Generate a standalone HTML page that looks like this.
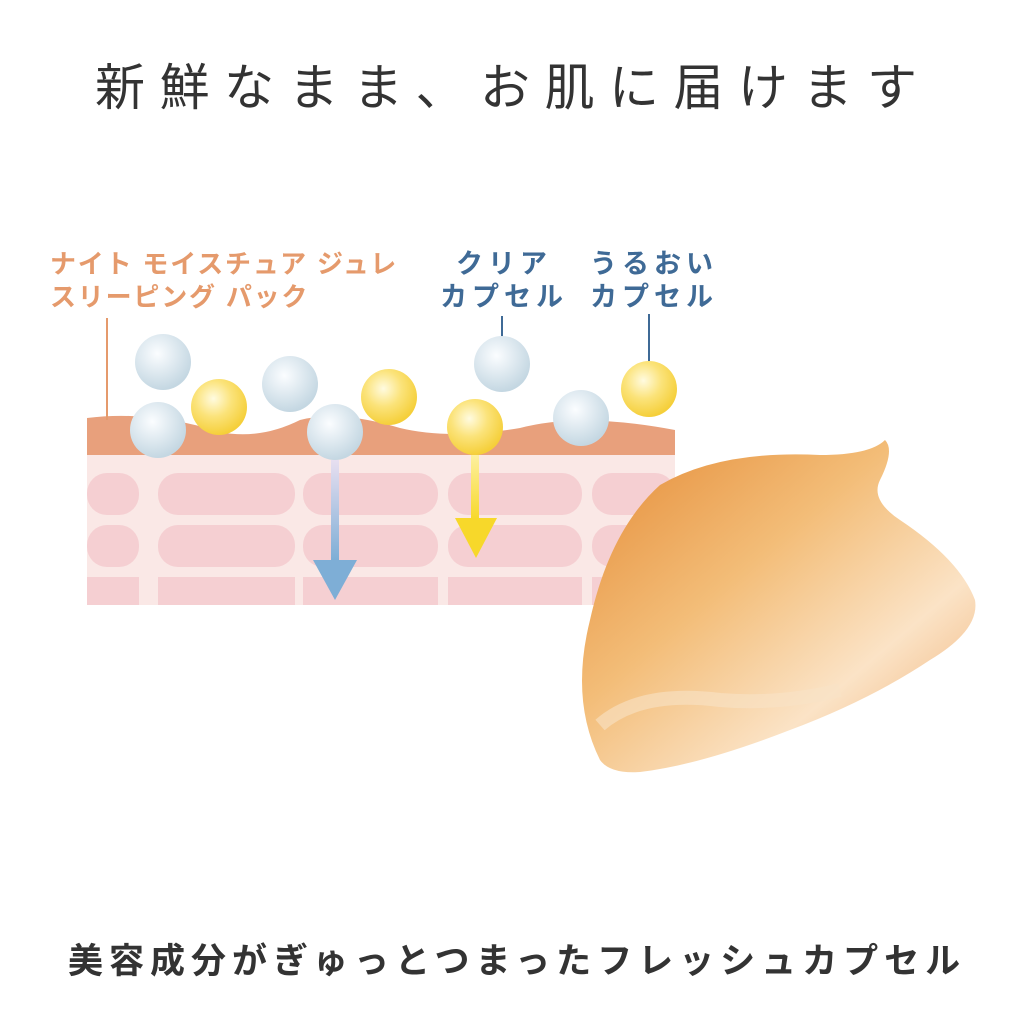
<!DOCTYPE html>
<html><head><meta charset="utf-8"><style>
html,body{margin:0;padding:0;background:#fff}
body{width:1024px;height:1024px;position:relative;overflow:hidden;font-family:"Liberation Sans","Noto Sans CJK JP",sans-serif}
.t{position:absolute;white-space:nowrap}
</style></head><body>
<div class="t" style="left:95px;top:48px;font-size:50px;letter-spacing:14.5px;color:#333">新鮮なまま、お肌に届けます</div>
<div class="t" style="left:68px;top:933px;font-size:35px;font-weight:bold;letter-spacing:6px;color:#333">美容成分がぎゅっとつまったフレッシュカプセル</div>
<div class="t" style="left:50px;top:248px;font-size:26px;line-height:33px;letter-spacing:1.8px;color:#e59a6c;font-weight:bold">ナイト モイスチュア ジュレ<br>スリーピング パック</div>
<div class="t" style="left:440px;top:248px;font-size:27px;line-height:33px;letter-spacing:5px;color:#3f6a96;font-weight:bold;text-align:center">クリア<br>カプセル</div>
<div class="t" style="left:590px;top:248px;font-size:27px;line-height:33px;letter-spacing:5px;color:#3f6a96;font-weight:bold">うるおい<br>カプセル</div>
<svg width="1024" height="1024" style="position:absolute;left:0;top:0">
<defs>
<radialGradient id="b" cx="0.4" cy="0.35" r="0.65"><stop offset="0" stop-color="#fbfdff"/><stop offset="1" stop-color="#c4d7e2"/></radialGradient>
<radialGradient id="y" cx="0.4" cy="0.35" r="0.65"><stop offset="0" stop-color="#fffbe0"/><stop offset="0.5" stop-color="#fbe37a"/><stop offset="1" stop-color="#f5cf3a"/></radialGradient>
<linearGradient id="ab" x1="0" y1="0" x2="0" y2="1"><stop offset="0" stop-color="#e8dff0"/><stop offset="1" stop-color="#7eaed6"/></linearGradient>
<linearGradient id="ay" x1="0" y1="0" x2="0" y2="1"><stop offset="0" stop-color="#fdf0a0"/><stop offset="1" stop-color="#f7d82a"/></linearGradient>
<linearGradient id="cr" x1="0" y1="0" x2="1" y2="1"><stop offset="0" stop-color="#e48a35"/><stop offset="0.4" stop-color="#f3bd78"/><stop offset="0.7" stop-color="#fbe3c6"/><stop offset="1" stop-color="#eea868"/></linearGradient>
</defs>
<rect x="87" y="450" width="588" height="155" fill="#fae8e6"/>
<g fill="#f5cfd2">
<rect x="87" y="473" width="52" height="42" rx="20"/><rect x="158" y="473" width="137" height="42" rx="20"/><rect x="303" y="473" width="135" height="42" rx="20"/><rect x="448" y="473" width="134" height="42" rx="20"/><rect x="592" y="473" width="83" height="42" rx="20"/>
<rect x="87" y="525" width="52" height="42" rx="20"/><rect x="158" y="525" width="137" height="42" rx="20"/><rect x="303" y="525" width="135" height="42" rx="20"/><rect x="448" y="525" width="134" height="42" rx="20"/><rect x="592" y="525" width="83" height="42" rx="20"/>
<rect x="87" y="577" width="52" height="28"/><rect x="158" y="577" width="137" height="28"/><rect x="303" y="577" width="135" height="28"/><rect x="448" y="577" width="134" height="28"/><rect x="592" y="577" width="83" height="28"/>
</g>
<path d="M87 418 Q150 410 220 432 Q260 440 300 420 Q340 410 400 428 Q450 440 520 428 Q580 412 675 430 L675 455 L87 455 Z" fill="#e8a07c"/>
<line x1="107" y1="318" x2="107" y2="420" stroke="#e59a6c" stroke-width="2"/>
<line x1="502" y1="316" x2="502" y2="340" stroke="#3f6a96" stroke-width="2"/>
<line x1="649" y1="314" x2="649" y2="362" stroke="#3f6a96" stroke-width="2"/>
<rect x="331" y="460" width="8" height="100" fill="url(#ab)"/><polygon points="313,560 357,560 335,600" fill="#7eaed6"/>
<rect x="471" y="455" width="8" height="65" fill="url(#ay)"/><polygon points="455,518 497,518 476,558" fill="#f7d82a"/>
<g fill="url(#b)"><circle cx="163" cy="362" r="28"/><circle cx="158" cy="430" r="28"/><circle cx="290" cy="384" r="28"/><circle cx="335" cy="432" r="28"/><circle cx="502" cy="364" r="28"/><circle cx="581" cy="418" r="28"/></g>
<g fill="url(#y)"><circle cx="219" cy="407" r="28"/><circle cx="389" cy="397" r="28"/><circle cx="475" cy="427" r="28"/><circle cx="649" cy="389" r="28"/></g>
<path d="M600 760 Q570 700 590 620 Q610 530 660 485 Q720 450 820 455 Q870 455 885 440 Q895 450 880 480 Q870 500 900 520 Q960 560 975 600 Q980 630 930 660 Q870 700 790 730 Q700 765 640 772 Q610 774 600 760 Z" fill="url(#cr)"/>
<path d="M600 725 Q640 690 720 700 Q780 705 840 690" stroke="#f9e2c6" stroke-width="14" fill="none" opacity="0.6"/>
</svg>
</body></html>
